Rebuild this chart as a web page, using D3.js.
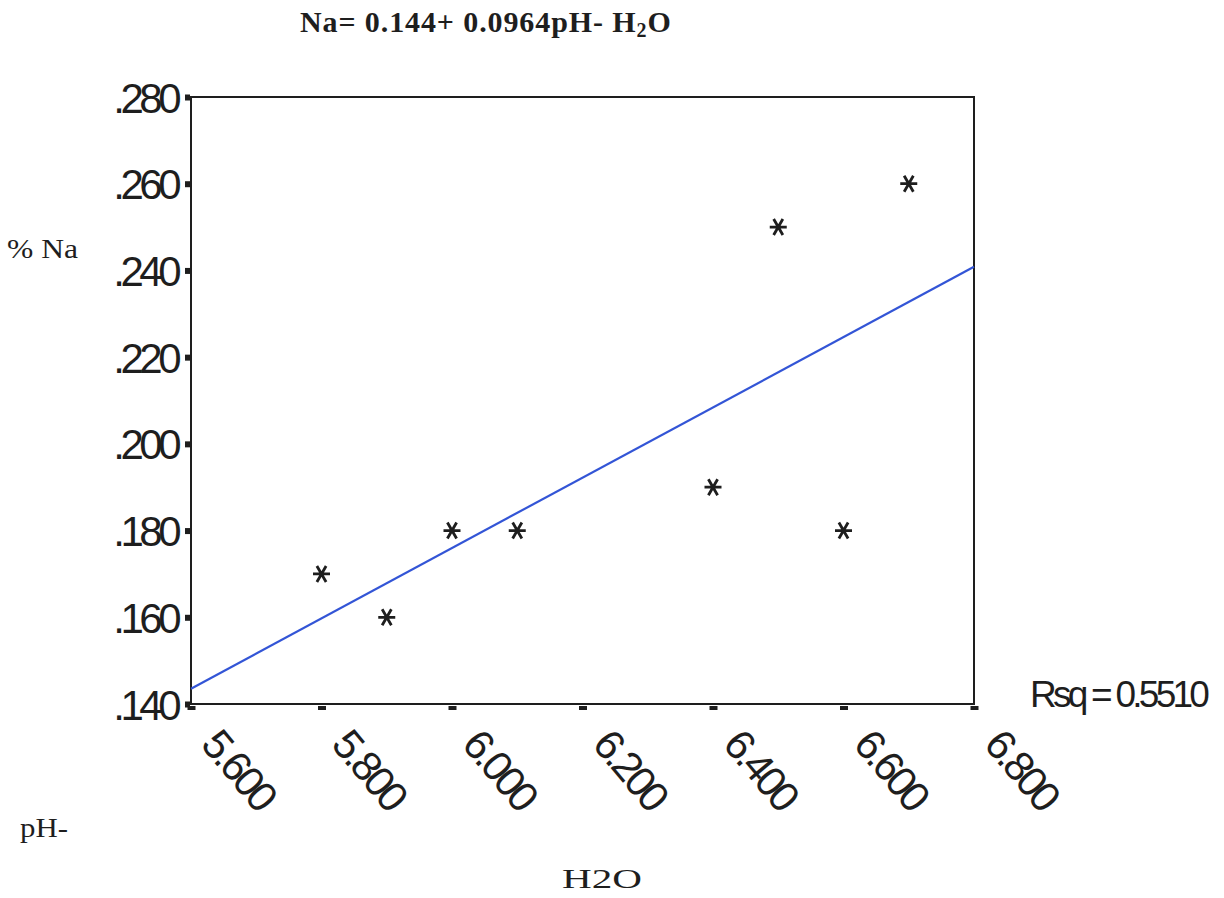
<!DOCTYPE html>
<html><head><meta charset="utf-8">
<script src="https://cdn.jsdelivr.net/npm/d3@7"></script>
<style>body{margin:0;background:#fff}svg{display:block}</style>
</head><body>
<script>
const phH2O = [5.8, 5.9, 6.0, 6.1, 6.4, 6.5, 6.6, 6.7];
const naPct = [0.17, 0.16, 0.18, 0.18, 0.19, 0.25, 0.18, 0.26];
const xTicks = [5.6, 5.8, 6.0, 6.2, 6.4, 6.6, 6.8];
const yTicks = [0.14, 0.16, 0.18, 0.20, 0.22, 0.24, 0.26, 0.28];
const rsqText = "Rsq = 0.5510";

const W = 1224, H = 898;
const svg = d3.select("body").append("svg").attr("width", W).attr("height", H);
const L = 191, R = 974, T = 97, B = 704;
const x = d3.scaleLinear().domain([5.6, 6.8]).range([L, R]);
const y = d3.scaleLinear().domain([0.14, 0.28]).range([B, T]);
const ink = "#1e1e1e";
const serif = "Liberation Serif, Times New Roman, serif";
const sans = "Liberation Sans, Arial, sans-serif";

// title
const title = svg.append("text").attr("x", 300).attr("y", 32)
  .attr("font-family", serif).attr("font-weight", "bold")
  .attr("font-size", 30).attr("letter-spacing", 0.9).attr("fill", ink);
title.append("tspan").text("Na= 0.144+ 0.0964pH- H");
title.append("tspan").attr("font-size", 20).attr("dy", 5).text("2");
title.append("tspan").attr("dy", -5).text("O");

// frame
svg.append("rect").attr("x", L).attr("y", T).attr("width", R - L).attr("height", B - T)
  .attr("fill", "none").attr("stroke", ink).attr("stroke-width", 2);

// y axis
const yAxis = d3.axisLeft(y).tickValues(yTicks).tickSize(0).tickPadding(10)
  .tickFormat(d => d3.format(".3f")(d).replace(/^0/, ""));
const gy = svg.append("g").attr("transform", `translate(${L},0)`).call(yAxis);
gy.select(".domain").remove();
gy.selectAll(".tick text").attr("font-family", sans)
  .attr("font-size", 42).attr("letter-spacing", -4.5).attr("fill", ink).attr("dy", "0.36em").attr("dx", -4);
gy.selectAll(".tick").append("rect").attr("x", -6).attr("y", -3).attr("width", 5).attr("height", 6).attr("fill", ink);

// x axis
const xAxis = d3.axisBottom(x).tickValues(xTicks).tickSize(0).tickFormat(d3.format(".3f"));
const gx = svg.append("g").attr("transform", `translate(0,${B})`).call(xAxis);
gx.select(".domain").remove();
gx.selectAll(".tick").append("rect").attr("x", -4).attr("y", 2).attr("width", 8).attr("height", 4).attr("fill", ink);
gx.selectAll(".tick text").attr("font-family", sans)
  .attr("font-size", 42).attr("letter-spacing", -3.4).attr("fill", ink)
  .attr("text-anchor", "start").attr("y", 0).attr("dy", 0)
  .attr("transform", "translate(8,41) rotate(50)");

// regression line (least squares fit of the data)
const mx = d3.mean(phH2O), my = d3.mean(naPct);
const sxy = d3.sum(phH2O, (v, i) => (v - mx) * (naPct[i] - my));
const sxx = d3.sum(phH2O, v => (v - mx) ** 2);
const slope = sxy / sxx, icpt = my - slope * mx;
const fitX = x.domain();
svg.append("line")
  .attr("x1", x(fitX[0])).attr("y1", y(icpt + slope * fitX[0]))
  .attr("x2", x(fitX[1])).attr("y2", y(icpt + slope * fitX[1]))
  .attr("stroke", "#3355d6").attr("stroke-width", 2.2);

// star markers
const star = "M-8.5,0L8.5,0M-4.6,-8L4.6,8M4.6,-8L-4.6,8";
svg.append("g").selectAll("path").data(phH2O).join("path")
  .attr("transform", (d, i) => `translate(${x(d)},${y(naPct[i])})`)
  .attr("d", star).attr("stroke", ink).attr("stroke-width", 2.8).attr("fill", "none");

// labels
function label(txt, tx, ty, len) {
  svg.append("text").attr("x", tx).attr("y", ty).attr("font-family", serif).attr("font-size", 27)
    .attr("fill", ink).attr("textLength", len).attr("lengthAdjust", "spacingAndGlyphs").text(txt);
}
label("% Na", 7, 258, 71);
label("pH-", 20, 837, 48);
label("H2O", 562, 888, 80);
svg.append("text").attr("x", 1030).attr("y", 707).attr("font-family", sans)
  .attr("font-size", 37).attr("letter-spacing", -3.75).attr("fill", ink).text(rsqText);
</script>
</body></html>
